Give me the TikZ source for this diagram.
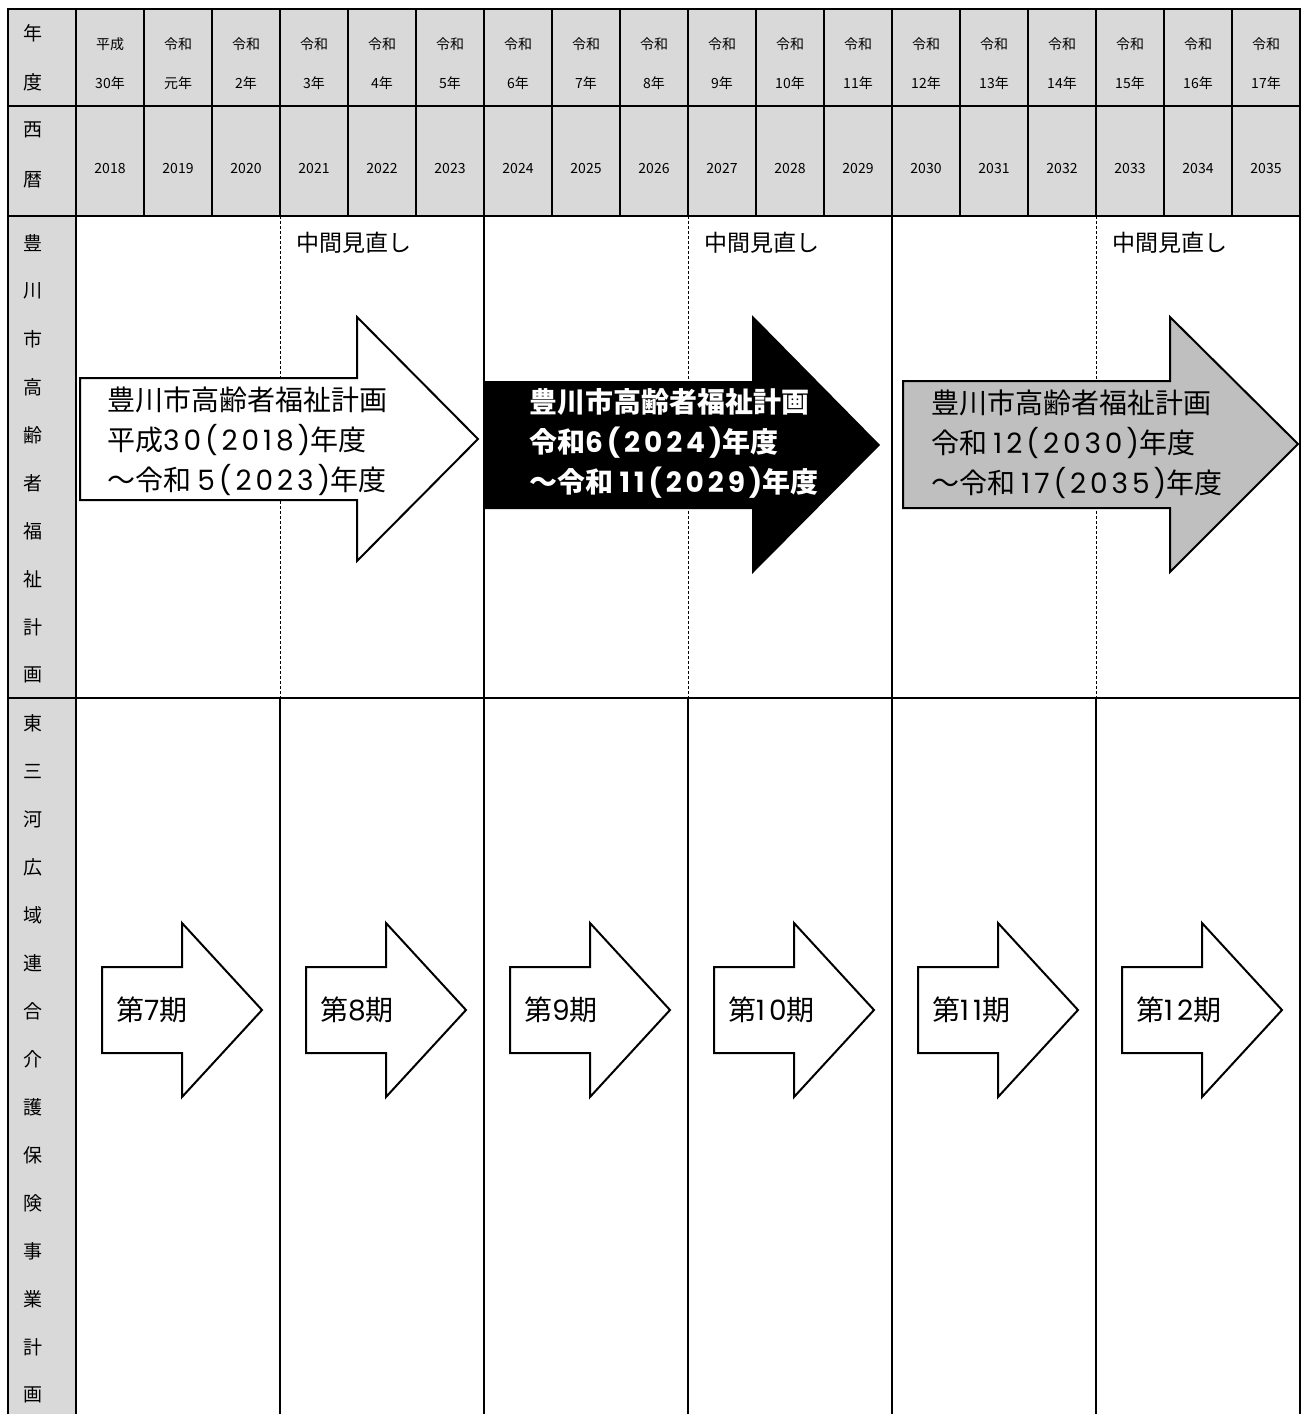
\documentclass[tikz,border=0pt]{standalone}
\usepackage{fontspec}
\setmainfont{Noto Sans CJK JP}
\newfontfamily\numfont[Numbers=Monospaced, LetterSpace=14]{Poppins}
\usetikzlibrary{positioning}
\definecolor{headgray}{HTML}{D9D9D9}
\definecolor{plangray}{HTML}{BFBFBF}
\newcommand{\nm}[1]{{\numfont #1}}

\begin{document}
\begin{tikzpicture}[x=1pt,y=-1pt,
    gridline/.style={line width=2pt},
    midline/.style={line width=1pt, dash pattern=on 3pt off 2pt},
    plan/.style={draw, line width=2pt, line join=miter},
    cell/.style={font=\fontsize{14}{14}\selectfont, inner sep=0pt},
    side/.style={font=\fontsize{19}{19}\selectfont, inner sep=0pt},
    big/.style={font=\fontsize{28}{40}\selectfont, align=left, inner sep=0pt, anchor=west},
    review/.style={font=\fontsize{23}{23}\selectfont, inner sep=0pt, anchor=west}]
  \useasboundingbox (0,0) rectangle (1302,1414);

  % Header fills
  \fill[headgray] (8,9) rectangle (1300,216);
  \fill[headgray] (8,216) rectangle (76,1414);

  % Grid lines
  \draw[gridline] (8,1414) -- (8,9) -- (1300,9) -- (1300,1414);
  \foreach \y in {106,216,698}
    \draw[gridline] (8,\y) -- (1300,\y);
  \foreach \k in {0,...,17}
    \draw[gridline] (76+68*\k,9) -- (76+68*\k,216);
  \foreach \k in {0,6,12}
    \draw[gridline] (76+68*\k,216) -- (76+68*\k,698);
  \foreach \k in {3,9,15}
    \draw[midline] (76+68*\k,216) -- (76+68*\k,698);
  \foreach \k in {0,3,...,15}
    \draw[gridline] (76+68*\k,698) -- (76+68*\k,1414);

  % Year header
  \node[side] (nen) at (33,33) {年};
  \node[side] (do) at (33,82) {度};
  \node[side] (sei) at (33,130) {西};
  \node[side] (reki) at (33,180) {暦};
  \foreach \era/\yr [count=\i from 0] in {平成/30年,令和/元年,令和/2年,令和/3年,
      令和/4年,令和/5年,令和/6年,令和/7年,令和/8年,令和/9年,令和/10年,令和/11年,
      令和/12年,令和/13年,令和/14年,令和/15年,令和/16年,令和/17年}{
    \pgfmathtruncatemacro{\west}{2018+\i}
    \node[cell] (era\i) at (110+68*\i,44) {\era};
    \node[cell] (yr\i) at (110+68*\i,83) {\yr};
    \node[cell] (ad\i) at (110+68*\i,169) {\west};
  }

  % Row labels
  \foreach \c [count=\i from 0] in {豊,川,市,高,齢,者,福,祉,計,画}
    \node[side] (plan\i) at (33,243+48*\i) {\c};
  \foreach \c [count=\i from 0] in {東,三,河,広,域,連,合,介,護,保,険,事,業,計,画}
    \node[side] (care\i) at (33,723+48*\i) {\c};

  % Mid-term reviews
  \foreach \k in {0,1,2}
    \node[review] (rev\k) at (296+408*\k,243) {中間見直し};

  % Welfare plan arrows
  \draw[plan, fill=white] (80,378) -- (357,378) -- (357,317) -- (478,439)
    -- (357,561) -- (357,500) -- (80,500) -- cycle;
  \node[big] (plan7) at (107,441)
    {豊川市高齢者福祉計画\\平成\nm{30(2018)}年度\\～令和 \nm{5(2023)}年度};
  \fill[black] (484,381) -- (752,381) -- (752,315) -- (880,445)
    -- (752,574) -- (752,509) -- (484,509) -- cycle;
  \node[big, text=white, font=\fontsize{28}{40}\selectfont\bfseries] (plan8) at (529,443)
    {豊川市高齢者福祉計画\\令和\nm{6(2024)}年度\\～令和 \nm{11(2029)}年度};
  \draw[plan, fill=plangray] (903,381) -- (1170,381) -- (1170,317) -- (1298,444)
    -- (1170,572) -- (1170,508) -- (903,508) -- cycle;
  \node[big] (plan9) at (931,444)
    {豊川市高齢者福祉計画\\令和 \nm{12(2030)}年度\\～令和 \nm{17(2035)}年度};

  % Care insurance periods
  \foreach \n [count=\i from 0] in {7,8,9,10,11,12}{
    \draw[plan, fill=white] (102+204*\i,967) -- (182+204*\i,967) -- (182+204*\i,923)
      -- (262+204*\i,1010) -- (182+204*\i,1097) -- (182+204*\i,1053)
      -- (102+204*\i,1053) -- cycle;
    \node[big] (term\n) at (116+204*\i,1010) {第\nm{\n}期};
  }
\end{tikzpicture}
\end{document}
